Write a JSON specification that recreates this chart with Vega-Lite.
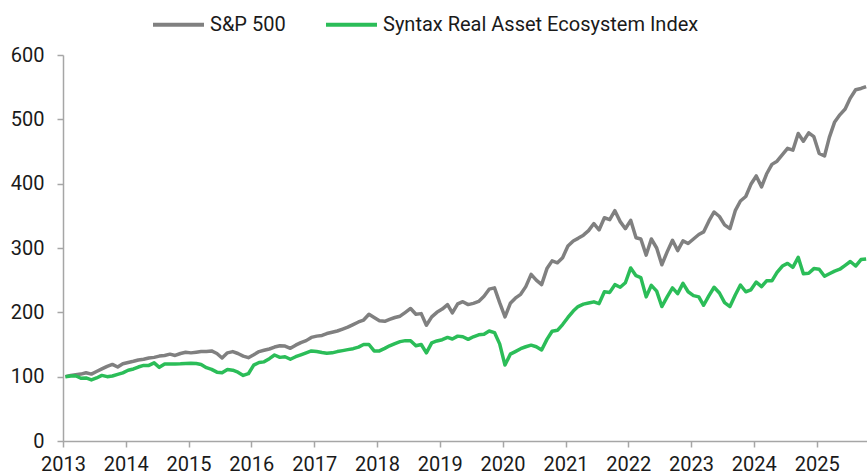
{
  "$schema": "https://vega.github.io/schema/vega-lite/v6.json",
  "width": 804,
  "height": 386,
  "autosize": {"type": "none"},
  "padding": {"left": 63, "top": 55, "right": 0, "bottom": 34},
  "background": "white",
  "config": {
    "view": {"stroke": null},
    "font": "Roboto"
  },
  "data": {
    "values": [
      {"date":"2013-01-15","sp":100,"sx":100},
      {"date":"2013-02-15","sp":102,"sx":101},
      {"date":"2013-03-15","sp":103,"sx":101.5},
      {"date":"2013-04-15","sp":104,"sx":97.5},
      {"date":"2013-05-15","sp":106,"sx":98},
      {"date":"2013-06-15","sp":104,"sx":95},
      {"date":"2013-07-15","sp":108,"sx":98},
      {"date":"2013-08-15","sp":112,"sx":102},
      {"date":"2013-09-15","sp":116,"sx":100},
      {"date":"2013-10-15","sp":119,"sx":101},
      {"date":"2013-11-15","sp":115,"sx":103.5},
      {"date":"2013-12-15","sp":120,"sx":106},
      {"date":"2014-01-15","sp":122,"sx":110},
      {"date":"2014-02-15","sp":124,"sx":112},
      {"date":"2014-03-15","sp":126,"sx":115},
      {"date":"2014-04-15","sp":127,"sx":117.5},
      {"date":"2014-05-15","sp":129,"sx":117.5},
      {"date":"2014-06-15","sp":130,"sx":121.5},
      {"date":"2014-07-15","sp":132,"sx":114.5},
      {"date":"2014-08-15","sp":133,"sx":119.7},
      {"date":"2014-09-15","sp":135,"sx":119.7},
      {"date":"2014-10-15","sp":133,"sx":119.7},
      {"date":"2014-11-15","sp":136,"sx":120},
      {"date":"2014-12-15","sp":138,"sx":120.5},
      {"date":"2015-01-15","sp":137,"sx":120.7},
      {"date":"2015-02-15","sp":138,"sx":120.5},
      {"date":"2015-03-15","sp":139,"sx":119},
      {"date":"2015-04-15","sp":139,"sx":114},
      {"date":"2015-05-15","sp":140,"sx":111.4},
      {"date":"2015-06-15","sp":136,"sx":107},
      {"date":"2015-07-15","sp":129,"sx":106},
      {"date":"2015-08-15","sp":137,"sx":111},
      {"date":"2015-09-15","sp":139,"sx":110},
      {"date":"2015-10-15","sp":136,"sx":107},
      {"date":"2015-11-15","sp":132,"sx":102},
      {"date":"2015-12-15","sp":129.5,"sx":104.6},
      {"date":"2016-01-15","sp":134,"sx":118},
      {"date":"2016-02-15","sp":139,"sx":122},
      {"date":"2016-03-15","sp":141,"sx":123},
      {"date":"2016-04-15","sp":143,"sx":128},
      {"date":"2016-05-15","sp":146,"sx":133.7},
      {"date":"2016-06-15","sp":148,"sx":130},
      {"date":"2016-07-15","sp":147.5,"sx":131},
      {"date":"2016-08-15","sp":144,"sx":127},
      {"date":"2016-09-15","sp":149,"sx":131},
      {"date":"2016-10-15","sp":153,"sx":134},
      {"date":"2016-11-15","sp":156,"sx":137},
      {"date":"2016-12-15","sp":161,"sx":140},
      {"date":"2017-01-15","sp":163,"sx":139},
      {"date":"2017-02-15","sp":164,"sx":137.5},
      {"date":"2017-03-15","sp":167,"sx":136.5},
      {"date":"2017-04-15","sp":169,"sx":137},
      {"date":"2017-05-15","sp":171,"sx":139},
      {"date":"2017-06-15","sp":174,"sx":140.5},
      {"date":"2017-07-15","sp":177,"sx":142},
      {"date":"2017-08-15","sp":181,"sx":143.5},
      {"date":"2017-09-15","sp":185,"sx":146},
      {"date":"2017-10-15","sp":188,"sx":150},
      {"date":"2017-11-15","sp":197,"sx":150},
      {"date":"2017-12-15","sp":192,"sx":140},
      {"date":"2018-01-15","sp":187,"sx":140},
      {"date":"2018-02-15","sp":186,"sx":144},
      {"date":"2018-03-15","sp":189,"sx":148},
      {"date":"2018-04-15","sp":192,"sx":151.5},
      {"date":"2018-05-15","sp":194,"sx":154.5},
      {"date":"2018-06-15","sp":200,"sx":156},
      {"date":"2018-07-15","sp":206,"sx":156},
      {"date":"2018-08-15","sp":197,"sx":148},
      {"date":"2018-09-15","sp":198,"sx":150},
      {"date":"2018-10-15","sp":180,"sx":137},
      {"date":"2018-11-15","sp":193,"sx":152.5},
      {"date":"2018-12-15","sp":200,"sx":155.5},
      {"date":"2019-01-15","sp":205,"sx":157.5},
      {"date":"2019-02-15","sp":212,"sx":161},
      {"date":"2019-03-15","sp":199,"sx":158.5},
      {"date":"2019-04-15","sp":213,"sx":163},
      {"date":"2019-05-15","sp":216.5,"sx":162},
      {"date":"2019-06-15","sp":212,"sx":158},
      {"date":"2019-07-15","sp":214,"sx":162},
      {"date":"2019-08-15","sp":217,"sx":165},
      {"date":"2019-09-15","sp":225,"sx":166},
      {"date":"2019-10-15","sp":236,"sx":171},
      {"date":"2019-11-15","sp":238,"sx":168.5},
      {"date":"2019-12-15","sp":215,"sx":151},
      {"date":"2020-01-15","sp":193,"sx":118},
      {"date":"2020-02-15","sp":214,"sx":135},
      {"date":"2020-03-15","sp":222,"sx":139},
      {"date":"2020-04-15","sp":228,"sx":143.5},
      {"date":"2020-05-15","sp":240,"sx":146.5},
      {"date":"2020-06-15","sp":259,"sx":149},
      {"date":"2020-07-15","sp":250,"sx":146.5},
      {"date":"2020-08-15","sp":243,"sx":141.5},
      {"date":"2020-09-15","sp":268,"sx":158},
      {"date":"2020-10-15","sp":280,"sx":170.5},
      {"date":"2020-11-15","sp":277,"sx":172},
      {"date":"2020-12-15","sp":285,"sx":181},
      {"date":"2021-01-15","sp":303,"sx":192},
      {"date":"2021-02-15","sp":311,"sx":202},
      {"date":"2021-03-15","sp":315,"sx":209},
      {"date":"2021-04-15","sp":320,"sx":212.7},
      {"date":"2021-05-15","sp":327,"sx":214.5},
      {"date":"2021-06-15","sp":338,"sx":216.3},
      {"date":"2021-07-15","sp":328,"sx":213.5},
      {"date":"2021-08-15","sp":347,"sx":232},
      {"date":"2021-09-15","sp":344,"sx":231},
      {"date":"2021-10-15","sp":358,"sx":243},
      {"date":"2021-11-15","sp":341,"sx":239},
      {"date":"2021-12-15","sp":330,"sx":246},
      {"date":"2022-01-15","sp":343,"sx":269},
      {"date":"2022-02-15","sp":316,"sx":257},
      {"date":"2022-03-15","sp":314,"sx":254},
      {"date":"2022-04-15","sp":289,"sx":224},
      {"date":"2022-05-15","sp":314,"sx":242},
      {"date":"2022-06-15","sp":300,"sx":233},
      {"date":"2022-07-15","sp":274,"sx":209},
      {"date":"2022-08-15","sp":294,"sx":224},
      {"date":"2022-09-15","sp":312,"sx":238},
      {"date":"2022-10-15","sp":296,"sx":229},
      {"date":"2022-11-15","sp":311,"sx":245},
      {"date":"2022-12-15","sp":307,"sx":232},
      {"date":"2023-01-15","sp":314,"sx":226},
      {"date":"2023-02-15","sp":321,"sx":224},
      {"date":"2023-03-15","sp":325,"sx":211},
      {"date":"2023-04-15","sp":342,"sx":226},
      {"date":"2023-05-15","sp":356,"sx":239},
      {"date":"2023-06-15","sp":349,"sx":230},
      {"date":"2023-07-15","sp":336,"sx":215},
      {"date":"2023-08-15","sp":330,"sx":209},
      {"date":"2023-09-15","sp":358,"sx":227},
      {"date":"2023-10-15","sp":373,"sx":242.5},
      {"date":"2023-11-15","sp":380,"sx":232},
      {"date":"2023-12-15","sp":399,"sx":235},
      {"date":"2024-01-15","sp":412,"sx":247},
      {"date":"2024-02-15","sp":395,"sx":240},
      {"date":"2024-03-15","sp":415,"sx":249},
      {"date":"2024-04-15","sp":430,"sx":249},
      {"date":"2024-05-15","sp":435,"sx":262},
      {"date":"2024-06-15","sp":445,"sx":272},
      {"date":"2024-07-15","sp":455,"sx":276},
      {"date":"2024-08-15","sp":452,"sx":270},
      {"date":"2024-09-15","sp":478,"sx":285.5},
      {"date":"2024-10-15","sp":466,"sx":260},
      {"date":"2024-11-15","sp":479,"sx":260.7},
      {"date":"2024-12-15","sp":473,"sx":268},
      {"date":"2025-01-15","sp":447,"sx":267},
      {"date":"2025-02-15","sp":443,"sx":256},
      {"date":"2025-03-15","sp":472,"sx":260},
      {"date":"2025-04-15","sp":496,"sx":264},
      {"date":"2025-05-15","sp":507,"sx":267},
      {"date":"2025-06-15","sp":516,"sx":273},
      {"date":"2025-07-15","sp":533,"sx":279},
      {"date":"2025-08-15","sp":546,"sx":272},
      {"date":"2025-09-15","sp":548,"sx":282},
      {"date":"2025-10-15","sp":551,"sx":283}
    ]
  },
  "transform": [
    {"fold": ["sp", "sx"], "as": ["series", "value"]}
  ],
  "mark": {"type": "line", "strokeWidth": 3.5, "strokeJoin": "round", "clip": true},
  "encoding": {
    "x": {
      "field": "date",
      "type": "temporal",
      "scale": {"type": "utc", "domain": ["2013-01-01", "2025-10-20"], "nice": false},
      "axis": {
        "title": null,
        "format": "%Y",
        "tickCount": "year",
        "grid": false,
        "domainColor": "#a6a6a6",
        "domainWidth": 1.5,
        "tickColor": "#a6a6a6",
        "tickWidth": 1.5,
        "tickSize": 6,
        "labelFontSize": 20,
        "labelColor": "#1a1a1a",
        "labelPadding": 7,
        "labelFlush": false,
        "labelOverlap": false
      }
    },
    "y": {
      "field": "value",
      "type": "quantitative",
      "scale": {"domain": [0, 600], "nice": false},
      "axis": {
        "title": null,
        "values": [0, 100, 200, 300, 400, 500, 600],
        "grid": false,
        "domainColor": "#a6a6a6",
        "domainWidth": 1.5,
        "tickColor": "#a6a6a6",
        "tickWidth": 1.5,
        "tickSize": 6,
        "labelFontSize": 20,
        "labelColor": "#1a1a1a",
        "labelPadding": 13
      }
    },
    "color": {
      "field": "series",
      "type": "nominal",
      "scale": {"domain": ["sp", "sx"], "range": ["#808080", "#2bbd58"]},
      "legend": {
        "title": null,
        "orient": "none",
        "direction": "horizontal",
        "legendX": 88,
        "legendY": -58,
        "symbolType": "stroke",
        "symbolSize": 2601,
        "symbolStrokeWidth": 4,
        "labelFontSize": 20,
        "labelColor": "#1a1a1a",
        "labelOffset": 4,
        "columnPadding": 32,
        "labelLimit": 500,
        "labelExpr": "datum.label == 'sp' ? 'S&P 500' : 'Syntax Real Asset Ecosystem Index'"
      }
    }
  }
}
